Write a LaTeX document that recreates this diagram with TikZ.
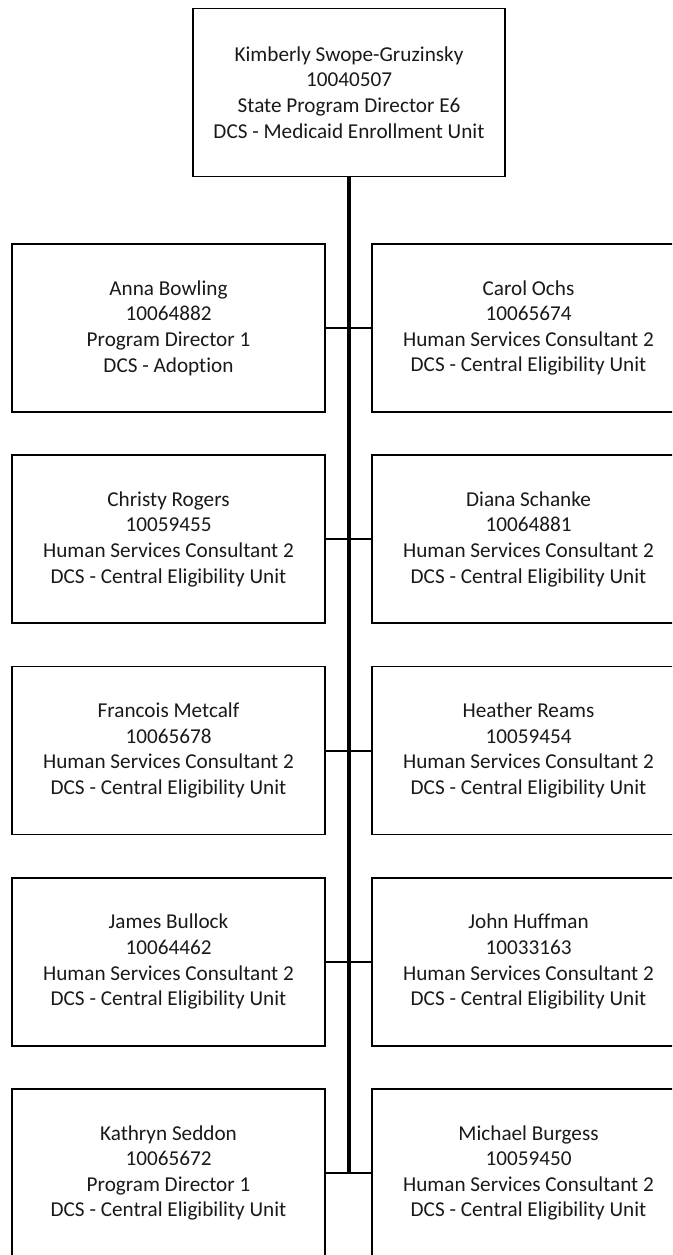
\documentclass[tikz,border=0pt]{standalone}
\usepackage{fontspec}
\setmainfont{Carlito}[Ligatures=NoCommon]
\begin{document}
\begin{tikzpicture}[x=1pt,y=-1pt,
  person/.style={draw, line width=1.8pt, minimum width=313pt, minimum height=168pt,
    inner sep=0pt, align=center, text=black!90,
    font=\fontsize{21.2}{25.6}\selectfont},
  link/.style={line width=2pt},
  trunk/.style={line width=3.3pt}]
\useasboundingbox (0,0) rectangle (672,1255);
\clip (0,0) rectangle (672,1255);

% head of the unit
\node[person, minimum width=312pt] (head) at (349,92.5)
  {Kimberly Swope-Gruzinsky\\10040507\\State Program Director E6\\DCS - Medicaid Enrollment Unit};

% staff, row by row (left / right)
\node[person] (l1) at (168.5,328)
  {Anna Bowling\\10064882\\Program Director 1\\DCS - Adoption};
\node[person] (r1) at (528.5,328)
  {Carol Ochs\\10065674\\Human Services Consultant 2\\DCS - Central Eligibility Unit};

\node[person] (l2) at (168.5,539.25)
  {Christy Rogers\\10059455\\Human Services Consultant 2\\DCS - Central Eligibility Unit};
\node[person] (r2) at (528.5,539.25)
  {Diana Schanke\\10064881\\Human Services Consultant 2\\DCS - Central Eligibility Unit};

\node[person] (l3) at (168.5,750.5)
  {Francois Metcalf\\10065678\\Human Services Consultant 2\\DCS - Central Eligibility Unit};
\node[person] (r3) at (528.5,750.5)
  {Heather Reams\\10059454\\Human Services Consultant 2\\DCS - Central Eligibility Unit};

\node[person] (l4) at (168.5,961.75)
  {James Bullock\\10064462\\Human Services Consultant 2\\DCS - Central Eligibility Unit};
\node[person] (r4) at (528.5,961.75)
  {John Huffman\\10033163\\Human Services Consultant 2\\DCS - Central Eligibility Unit};

\node[person] (l5) at (168.5,1173)
  {Kathryn Seddon\\10065672\\Program Director 1\\DCS - Central Eligibility Unit};
\node[person] (r5) at (528.5,1173)
  {Michael Burgess\\10059450\\Human Services Consultant 2\\DCS - Central Eligibility Unit};

% reporting lines
\coordinate (trunkend) at (head.south |- l5.east);
\draw[trunk] (head.south) -- (trunkend);
\foreach \i in {1,...,5}
  \draw[link] (l\i.east) -- (r\i.west);
\end{tikzpicture}
\end{document}
